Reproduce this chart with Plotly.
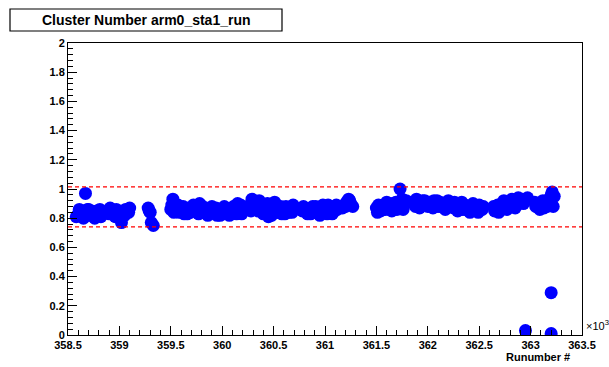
import plotly.graph_objects as go

# Run numbers (in units of 10^3) and cluster-number ratio per run
run_k = [
    358.58, 358.60, 358.62, 358.64, 358.66, 358.67, 358.68, 358.70, 358.72, 358.74,
    358.76, 358.78, 358.80, 358.82, 358.84,
    358.88, 358.90, 358.93, 358.95, 358.97, 359.00, 359.02, 359.04, 359.06, 359.08, 359.10,
    359.28, 359.30, 359.31, 359.33,
    359.50, 359.51, 359.52, 359.54, 359.56, 359.58, 359.61, 359.63, 359.65, 359.67,
    359.69, 359.71, 359.74, 359.76, 359.78, 359.80, 359.82, 359.84, 359.87, 359.89,
    359.91, 359.93, 359.95, 359.97, 359.99, 360.01, 360.03, 360.06, 360.08, 360.10,
    360.12, 360.14, 360.16, 360.18, 360.20,
    360.27, 360.29, 360.31, 360.33, 360.35, 360.37, 360.39, 360.41, 360.43, 360.45,
    360.47, 360.49, 360.51, 360.53, 360.55, 360.58, 360.60, 360.62, 360.64, 360.66,
    360.68, 360.70,
    360.78, 360.80, 360.82, 360.84, 360.86, 360.88, 360.90, 360.92, 360.94, 360.96,
    360.98, 361.00, 361.02, 361.04, 361.06, 361.08, 361.10, 361.12,
    361.17, 361.19, 361.21, 361.23, 361.25, 361.27,
    361.50, 361.52, 361.54, 361.57, 361.59, 361.62, 361.64, 361.66, 361.68, 361.70,
    361.72, 361.73, 361.75, 361.77, 361.79,
    361.87, 361.89, 361.91, 361.93, 361.95, 361.98, 362.00, 362.02, 362.04, 362.06,
    362.08, 362.10, 362.12, 362.14, 362.16, 362.18, 362.20, 362.22, 362.24, 362.26,
    362.28, 362.30, 362.32, 362.34, 362.36, 362.38, 362.40, 362.42, 362.44, 362.46,
    362.48, 362.50, 362.52, 362.54,
    362.64, 362.66, 362.68, 362.70, 362.72, 362.74, 362.76, 362.78, 362.80, 362.82,
    362.84, 362.86, 362.88, 362.90, 362.92, 362.94, 362.95, 362.97,
    363.04, 363.06, 363.08, 363.10, 363.12, 363.14, 363.16, 363.18, 363.20, 363.21,
    363.22, 363.20, 363.20,
    # second pass of runs in the same periods
    358.61, 358.65, 358.69, 358.73, 358.77, 358.81,
    358.91, 358.96, 359.05, 359.09,
    359.29,
    359.53, 359.57, 359.62, 359.66, 359.72, 359.77, 359.81, 359.86, 359.90, 359.94,
    359.98, 360.02, 360.07, 360.11, 360.15, 360.19,
    360.28, 360.32, 360.36, 360.40, 360.44, 360.48, 360.52, 360.57, 360.61, 360.65, 360.69,
    360.79, 360.83, 360.87, 360.91, 360.95, 360.99, 361.03, 361.07, 361.11, 361.20, 361.24,
    361.51, 361.55, 361.60, 361.65, 361.69, 361.76,
    361.88, 361.92, 361.97, 362.01, 362.05, 362.09, 362.13, 362.17, 362.21, 362.25,
    362.29, 362.33, 362.37, 362.41, 362.45, 362.49, 362.53,
    362.65, 362.69, 362.73, 362.77, 362.81, 362.85, 362.89, 362.93,
    363.05, 363.09, 363.13, 363.17, 363.23,
]
ratio = [
    0.81, 0.83, 0.84, 0.82, 0.85, 0.97, 0.83, 0.86, 0.82, 0.84,
    0.80, 0.85, 0.83, 0.81, 0.84,
    0.84, 0.83, 0.85, 0.82, 0.86, 0.84, 0.77, 0.83, 0.86, 0.85, 0.87,
    0.87, 0.84, 0.77, 0.75,
    0.86, 0.89, 0.93, 0.88, 0.85, 0.84, 0.86, 0.83, 0.85, 0.87,
    0.84, 0.86, 0.85, 0.88, 0.90, 0.86, 0.84, 0.87, 0.83, 0.85,
    0.86, 0.84, 0.82, 0.86, 0.85, 0.83, 0.87, 0.84, 0.86, 0.85,
    0.88, 0.83, 0.86, 0.89, 0.85,
    0.89, 0.93, 0.90, 0.87, 0.85, 0.88, 0.84, 0.86, 0.89, 0.81,
    0.84, 0.87, 0.91, 0.86, 0.84, 0.83, 0.86, 0.88, 0.85, 0.87,
    0.84, 0.86,
    0.85, 0.87, 0.84, 0.86, 0.83, 0.88, 0.85, 0.87, 0.84, 0.86,
    0.89, 0.85, 0.83, 0.87, 0.85, 0.84, 0.88, 0.86,
    0.87, 0.89, 0.91, 0.93, 0.90, 0.88,
    0.87, 0.89, 0.85, 0.88, 0.86, 0.89, 0.87, 0.90, 0.88, 0.86,
    0.91, 1.00, 0.93, 0.89, 0.92,
    0.91, 0.93, 0.90, 0.89, 0.92, 0.90, 0.88, 0.91, 0.89, 0.92,
    0.90, 0.88, 0.91, 0.89, 0.87, 0.90, 0.92, 0.89, 0.88, 0.91,
    0.89, 0.87, 0.90, 0.86, 0.89, 0.88, 0.85, 0.87, 0.90, 0.88,
    0.86, 0.89, 0.87, 0.88,
    0.88, 0.86, 0.89, 0.87, 0.90, 0.92, 0.89, 0.88, 0.91, 0.93,
    0.90, 0.92, 0.94, 0.91, 0.93, 0.92, 0.03, 0.94,
    0.91, 0.88, 0.90, 0.87, 0.92, 0.89, 0.88, 0.93, 0.96, 0.98,
    0.88, 0.29, 0.01,
    # second pass
    0.86, 0.80, 0.86, 0.85, 0.82, 0.86,
    0.87, 0.81, 0.82, 0.84,
    0.85,
    0.84, 0.89, 0.88, 0.83, 0.89, 0.83, 0.88, 0.82, 0.88, 0.87,
    0.82, 0.88, 0.82, 0.88, 0.90, 0.83,
    0.85, 0.86, 0.92, 0.83, 0.90, 0.82, 0.84, 0.88, 0.83, 0.84, 0.89,
    0.88, 0.83, 0.85, 0.88, 0.82, 0.87, 0.89, 0.83, 0.89, 0.88, 0.92,
    0.84, 0.87, 0.91, 0.85, 0.91, 0.86,
    0.88, 0.87, 0.92, 0.89, 0.87, 0.92, 0.88, 0.86, 0.91, 0.87,
    0.85, 0.91, 0.86, 0.84, 0.86, 0.84, 0.86,
    0.85, 0.84, 0.88, 0.86, 0.89, 0.87, 0.91, 0.90,
    0.88, 0.86, 0.87, 0.89, 0.95,
]

# Acceptance band drawn as dashed red lines
upper_limit = 1.014
lower_limit = 0.74

x_range = [358.5, 363.5]
y_range = [0, 2]

title_text = "Cluster Number arm0_sta1_run"
x_title = "Runumber #"

font_family = "Liberation Sans, Arial, Helvetica, sans-serif"

fig = go.Figure()
fig.add_trace(go.Scatter(
    x=run_k, y=ratio, mode="markers",
    marker=dict(color="#0000ff", size=13, line=dict(width=0)),
    showlegend=False, hoverinfo="skip",
))

for level in (upper_limit, lower_limit):
    fig.add_shape(type="line", xref="paper", yref="y", x0=0, x1=1, y0=level, y1=level,
                  line=dict(color="#ff0000", width=1.3, dash="4px,3px"))

axis_common = dict(
    showgrid=False, zeroline=False,
    showline=True, linecolor="black", linewidth=1, mirror=True,
    ticks="inside", ticklen=9, tickcolor="black", tickwidth=1,
    tickfont=dict(family=font_family, size=11, color="black", weight="bold"),
)

fig.update_layout(
    width=609, height=367,
    margin=dict(l=68, r=27, t=43, b=32),
    paper_bgcolor="white", plot_bgcolor="white",
    xaxis=dict(range=x_range, dtick=0.5, tick0=358.5,
               minor=dict(dtick=0.1, ticklen=5, ticks="inside", tickcolor="black"),
               ticklabelstandoff=0, **axis_common),
    yaxis=dict(range=y_range, dtick=0.2, tick0=0,
               minor=dict(dtick=0.04, ticklen=5, ticks="inside", tickcolor="black"),
               **axis_common),
)

# Title box
fig.add_shape(type="rect", xref="paper", yref="paper",
              x0=(10 - 68) / 514, x1=(282 - 68) / 514,
              y0=(335 - 31) / 292, y1=(335 - 9) / 292,
              line=dict(color="black", width=1.2), fillcolor="white")
fig.add_annotation(text=title_text, xref="paper", yref="paper",
                   x=(146 - 68) / 514, y=(335 - 20) / 292,
                   xanchor="center", yanchor="middle", showarrow=False,
                   font=dict(family=font_family, size=14, color="black", weight="bold"))

# Axis exponent and title
fig.add_annotation(text="×10<sup>3</sup>", xref="paper", yref="paper",
                   x=(584 - 68) / 514, y=(335 - 325) / 292,
                   xanchor="left", yanchor="middle", showarrow=False,
                   font=dict(family=font_family, size=11, color="black"))
fig.add_annotation(text=x_title, xref="paper", yref="paper",
                   x=(572 - 68) / 514, y=(335 - 357) / 292,
                   xanchor="right", yanchor="middle", showarrow=False,
                   font=dict(family=font_family, size=11, color="black", weight="bold"))

fig.write_html("out.html")
